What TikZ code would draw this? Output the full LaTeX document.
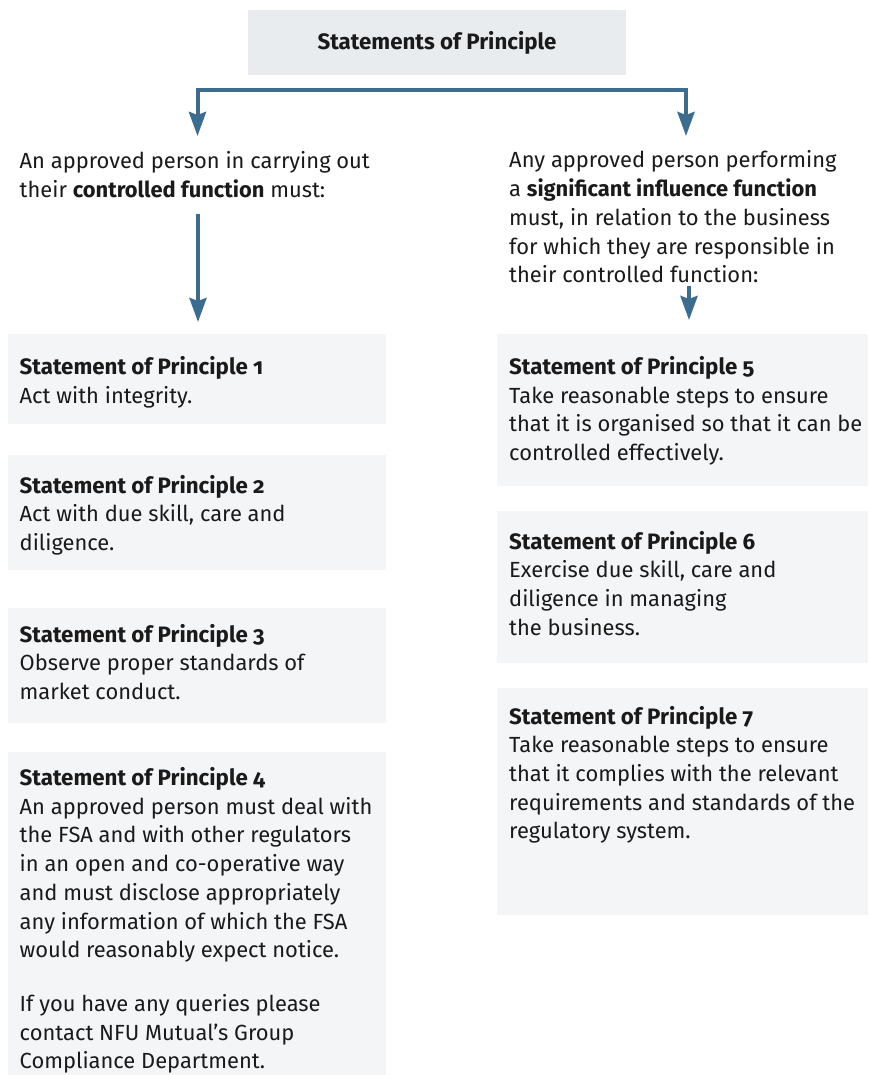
\documentclass[tikz,border=0pt]{standalone}
\usepackage{fontspec}
\setmainfont{Fira Sans}[Numbers=OldStyle]
\usetikzlibrary{arrows.meta}
\definecolor{arrowblue}{RGB}{62,108,143}
\definecolor{titlefill}{RGB}{233,236,239}
\definecolor{boxfill}{RGB}{244,245,247}
\definecolor{ink}{RGB}{26,26,26}
\newcommand{\hd}[1]{{\fontsize{22.3}{28.7}\selectfont\bfseries #1}}
\begin{document}
\begin{tikzpicture}[x=1pt,y=-1pt,
  panel/.style={fill=boxfill, draw=none, anchor=north west, inner sep=0pt,
    minimum width=#1},
  txt/.style={anchor=base west, inner sep=0pt, text=ink,
    font=\fontsize{21.9}{28.7}\selectfont},
  conn/.style={draw=arrowblue, line width=4pt,
    -{Stealth[length=24pt,width=17pt,inset=3pt]}},
  conn2/.style={draw=arrowblue, line width=4pt,
    {Stealth[length=24pt,width=17pt,inset=3pt]}-{Stealth[length=24pt,width=17pt,inset=3pt]}}
]
\useasboundingbox (0,0) rectangle (868,1075);
\fill[white] (0,0) rectangle (868,1075);

% title
\node[fill=titlefill, inner sep=0pt, minimum width=378pt, minimum height=65pt,
  text=ink, font=\fontsize{22.3}{26}\selectfont\bfseries] (title) at (437,42.5)
  {Statements of Principle};

% boxes
\node[panel=378pt, minimum height=90pt] (b1) at (8,334) {};
\node[panel=378pt, minimum height=115pt] (b2) at (8,455) {};
\node[panel=378pt, minimum height=115pt] (b3) at (8,607.5) {};
\node[panel=378pt, minimum height=323pt] (b4) at (8,752) {};
\node[panel=371pt, minimum height=152pt] (b5) at (497,334) {};
\node[panel=371pt, minimum height=152pt] (b6) at (497,511) {};
\node[panel=371pt, minimum height=227pt] (b7) at (497,688) {};

% intro texts
\node[txt] (introL) at (19.5,168.5) {\parbox[t]{480pt}{%
  An approved person in carrying out\\
  their \textbf{controlled function} must:}};
\node[txt] (introR) at (509,168) {\parbox[t]{480pt}{%
  Any approved person performing\\
  a \textbf{significant influence function}\\
  must, in relation to the business\\
  for which they are responsible in\\
  their controlled function:}};

% box texts
\node[txt] (t1) at (19.5,374.5) {\parbox[t]{480pt}{%
  \hd{Statement of Principle 1}\\
  Act with integrity.}};
\node[txt] (t2) at (19.5,493) {\parbox[t]{480pt}{%
  \hd{Statement of Principle 2}\\
  Act with due skill, care and\\
  diligence.}};
\node[txt] (t3) at (19.5,642) {\parbox[t]{480pt}{%
  \hd{Statement of Principle 3}\\
  Observe proper standards of\\
  market conduct.}};
\node[txt] (t4) at (19.5,785.5) {\parbox[t]{480pt}{%
  \hd{Statement of Principle 4}\\
  An approved person must deal with\\
  the FSA and with other regulators\\
  in an open and co-operative way\\
  and must disclose appropriately\\
  any information of which the FSA\\
  would reasonably expect notice.\\[25pt]
  If you have any queries please\\
  contact NFU Mutual’s Group\\
  Compliance Department.}};
\node[txt] (t5) at (509,374.5) {\parbox[t]{480pt}{%
  \hd{Statement of Principle 5}\\
  Take reasonable steps to ensure\\
  that it is organised so that it can be\\
  controlled effectively.}};
\node[txt] (t6) at (509,549) {\parbox[t]{480pt}{%
  \hd{Statement of Principle 6}\\
  Exercise due skill, care and\\
  diligence in managing\\
  the business.}};
\node[txt] (t7) at (509,724) {\parbox[t]{480pt}{%
  \hd{Statement of Principle 7}\\
  Take reasonable steps to ensure\\
  that it complies with the relevant\\
  requirements and standards of the\\
  regulatory system.}};

% connectors
\coordinate (tipL) at (197.5,136);
\coordinate (tipR) at (686,136);
\coordinate (barL) at (197.5,90);
\coordinate (barR) at (686,90);
\draw[conn2] (tipL) -- (barL) -- (barR) -- (tipR);

\coordinate (stemL) at (198,214);
\coordinate (endL) at (198,322);
\draw[conn] (stemL) -- (endL);
\coordinate (stemR) at (689,286);
\coordinate (endR) at (689,320);
\draw[conn] (stemR) -- (endR);
\end{tikzpicture}
\end{document}
